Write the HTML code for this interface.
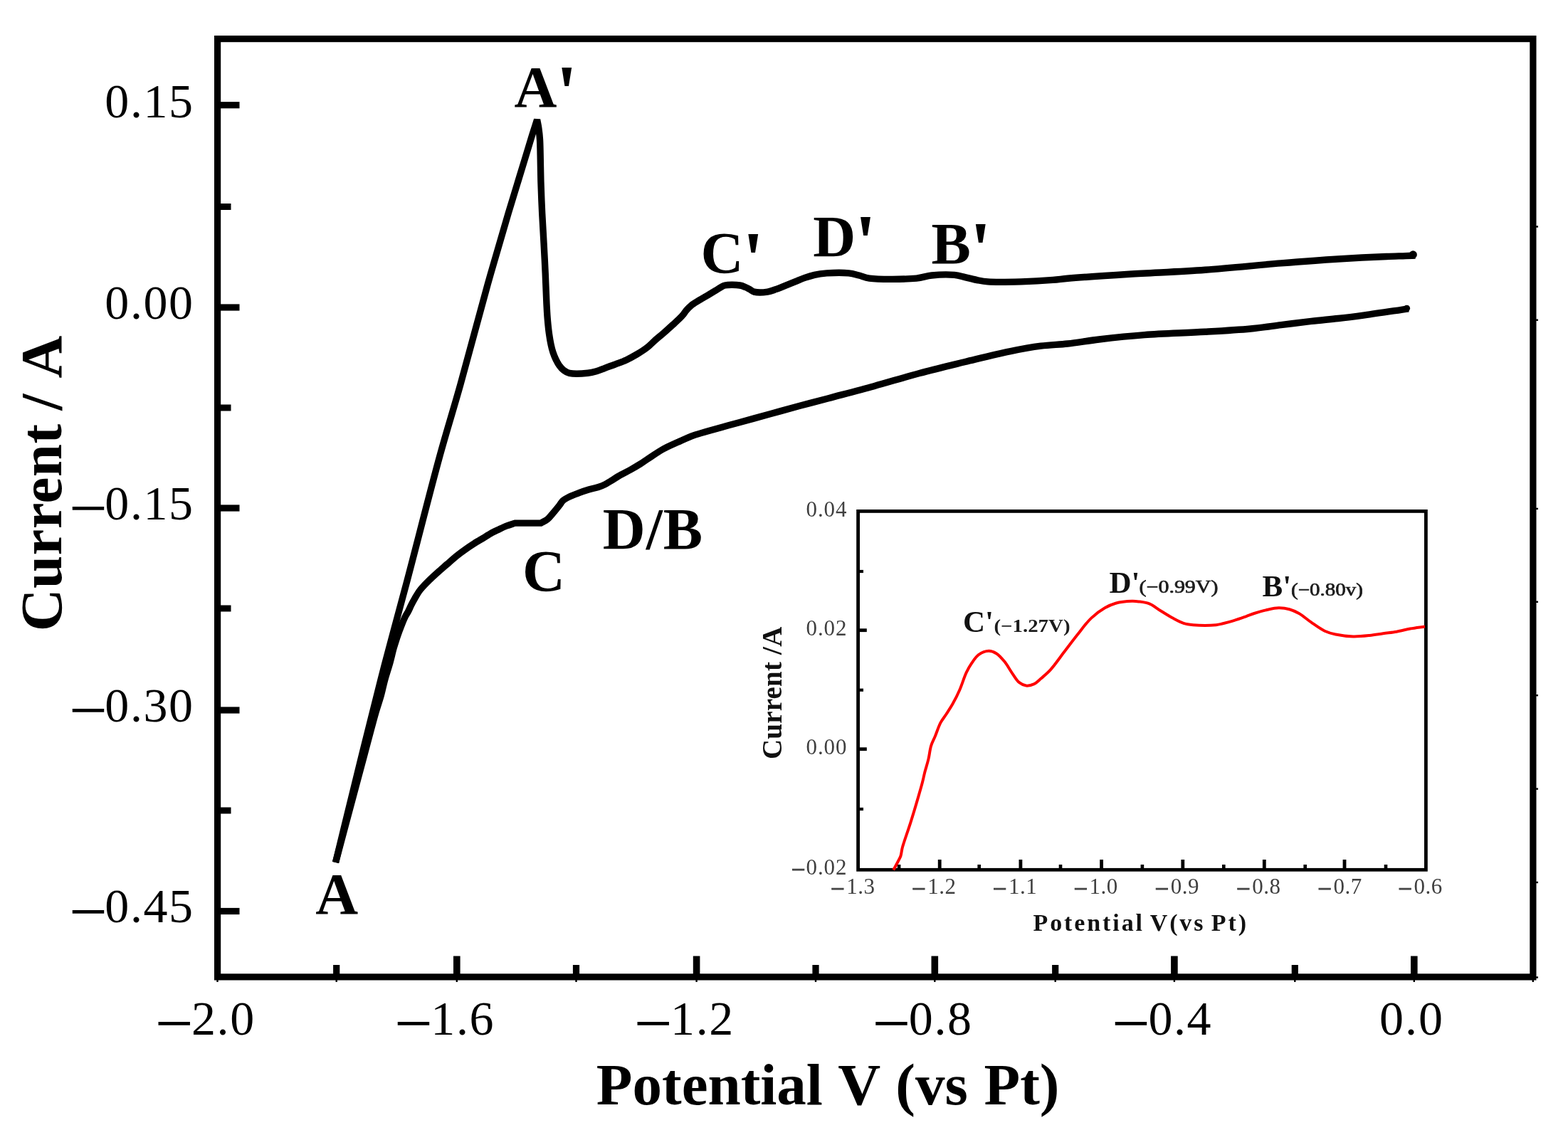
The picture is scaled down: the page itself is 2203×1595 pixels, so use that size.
<!DOCTYPE html>
<html lang="en">
<head>
<meta charset="utf-8">
<title>Cyclic voltammogram: Current / A vs Potential V (vs Pt)</title>
<style>
html,body{margin:0;padding:0;background:#fff;}
body{width:2203px;height:1595px;overflow:hidden;font-family:"Liberation Serif", "DejaVu Serif", serif;}
svg{display:block;}
text{white-space:pre;}
</style>
</head>
<body>
<svg width="2203" height="1595" viewBox="0 0 2203 1595">
<rect x="0" y="0" width="2203" height="1595" fill="#fff"/>
<g id="main-axes">
<rect x="305.60" y="54.60" width="1848.30" height="1318.30" fill="none" stroke="#000" stroke-width="9.2"/>
<rect x="309.2" y="143.1" width="27.3" height="9.2" fill="#000"/>
<rect x="309.2" y="427.4" width="27.3" height="9.2" fill="#000"/>
<rect x="309.2" y="709.4" width="27.3" height="9.2" fill="#000"/>
<rect x="309.2" y="993.4" width="27.3" height="9.2" fill="#000"/>
<rect x="309.2" y="1275.9" width="27.3" height="9.2" fill="#000"/>
<rect x="309.2" y="286.0" width="15.3" height="9" fill="#000"/>
<rect x="309.2" y="568.5" width="15.3" height="9" fill="#000"/>
<rect x="309.2" y="850.5" width="15.3" height="9" fill="#000"/>
<rect x="309.2" y="1134.5" width="15.3" height="9" fill="#000"/>
<rect x="637.0" y="1343.5" width="9.6" height="25.8" fill="#000"/>
<rect x="973.8" y="1343.5" width="9.6" height="25.8" fill="#000"/>
<rect x="1308.5" y="1343.5" width="9.6" height="25.8" fill="#000"/>
<rect x="1645.1" y="1343.5" width="9.6" height="25.8" fill="#000"/>
<rect x="1982.0" y="1343.5" width="9.6" height="25.8" fill="#000"/>
<rect x="468.1" y="1356" width="9.2" height="13.3" fill="#000"/>
<rect x="804.9" y="1356" width="9.2" height="13.3" fill="#000"/>
<rect x="1141.4" y="1356" width="9.2" height="13.3" fill="#000"/>
<rect x="1478.1" y="1356" width="9.2" height="13.3" fill="#000"/>
<rect x="1814.7" y="1356" width="9.2" height="13.3" fill="#000"/>
<rect x="304.3" y="1377.0" width="2.4" height="3" fill="#000"/>
<rect x="471.5" y="1377.0" width="2.4" height="3" fill="#000"/>
<rect x="808.3" y="1377.0" width="2.4" height="3" fill="#000"/>
<rect x="1144.8" y="1377.0" width="2.4" height="3" fill="#000"/>
<rect x="1481.5" y="1377.0" width="2.4" height="3" fill="#000"/>
<rect x="1818.1" y="1377.0" width="2.4" height="3" fill="#000"/>
<rect x="640.6" y="1377.0" width="2.4" height="3" fill="#000"/>
<rect x="977.4" y="1377.0" width="2.4" height="3" fill="#000"/>
<rect x="1312.1" y="1377.0" width="2.4" height="3" fill="#000"/>
<rect x="1648.7" y="1377.0" width="2.4" height="3" fill="#000"/>
<rect x="1985.6" y="1377.0" width="2.4" height="3" fill="#000"/>
<rect x="2152.6" y="1377.0" width="2.4" height="3" fill="#000"/>
<rect x="2158.0" y="317.3" width="3" height="2.4" fill="#000"/>
<rect x="2158.0" y="448.5" width="3" height="2.4" fill="#000"/>
<rect x="2158.0" y="713.7" width="3" height="2.4" fill="#000"/>
<rect x="2158.0" y="844.6" width="3" height="2.4" fill="#000"/>
<rect x="2158.0" y="976.0" width="3" height="2.4" fill="#000"/>
<rect x="2158.0" y="1107.4" width="3" height="2.4" fill="#000"/>
<rect x="2158.0" y="1238.8" width="3" height="2.4" fill="#000"/>
<rect x="2158.0" y="1372.3" width="3" height="2.4" fill="#000"/>
</g>
<g id="cv-curve">
<path d="M471.5,1212.0C483.9,1161.3 496.7,1108.2 508.7,1060.0C519.6,1016.3 529.6,975.9 540.2,935.0C550.5,895.3 560.1,861.1 571.5,818.0C585.6,764.9 604.1,690.8 618.1,640.0C628.6,601.8 636.9,576.2 647.0,540.0C659.0,497.3 673.1,442.7 685.1,400.0C695.3,363.8 706.4,325.8 714.1,300.0C719.0,283.6 722.3,273.2 726.3,260.0C730.3,246.9 734.5,233.3 738.2,221.0C741.5,210.1 744.7,199.4 747.6,190.0C750.1,182.1 752.3,175.5 754.6,168.2C755.3,172.1 756.2,175.8 756.8,180.0C757.5,184.9 758.1,189.9 758.5,196.0C759.0,204.2 759.1,215.3 759.3,225.0C759.5,234.9 759.6,244.0 759.9,255.0C760.3,268.5 761.0,285.4 761.7,300.0C762.4,314.0 763.3,327.2 764.0,341.0C764.8,355.2 765.5,369.7 766.2,384.0C766.8,398.1 767.3,414.0 767.9,426.0C768.4,435.1 768.7,442.3 769.4,449.9C770.0,456.9 770.7,463.8 771.6,469.9C772.3,475.0 773.1,479.5 774.0,483.9C774.8,487.8 775.7,491.4 776.9,494.9C778.0,498.3 779.4,501.7 780.9,504.9C782.4,508.0 784.0,511.2 785.9,513.8C787.7,516.3 789.6,518.6 791.9,520.3C794.2,522.1 796.3,523.5 799.9,524.3C806.0,525.7 818.9,525.0 825.9,524.3C830.7,523.8 834.0,522.9 837.9,521.8C841.9,520.6 845.6,518.9 849.8,517.3C854.5,515.5 859.8,513.7 864.8,511.8C869.8,509.9 874.9,508.2 879.8,505.9C884.9,503.6 889.9,500.8 894.8,497.9C899.9,494.9 905.4,491.4 909.8,487.9C913.7,484.9 916.4,481.7 920.0,478.5C924.0,475.0 928.5,471.4 932.7,467.7C937.0,464.0 941.2,460.2 945.4,456.3C949.7,452.4 954.7,448.0 958.1,444.2C960.7,441.3 962.3,438.4 964.5,435.9C966.5,433.6 968.2,431.7 970.8,429.6C974.2,426.8 979.2,424.0 983.5,421.3C987.7,418.7 992.4,416.1 996.3,413.7C999.7,411.7 1003.0,409.7 1005.8,408.0C1008.1,406.6 1010.0,405.3 1012.1,404.1C1014.2,402.9 1015.7,401.7 1018.5,401.0C1023.4,399.9 1034.3,400.2 1039.5,401.0C1042.7,401.5 1044.7,402.5 1047.1,403.5C1049.4,404.4 1051.4,405.6 1053.5,406.7C1055.5,407.8 1056.8,409.4 1059.5,410.1C1064.0,411.3 1073.0,410.9 1078.5,410.1C1082.8,409.5 1085.9,408.1 1089.8,406.7C1094.2,405.2 1098.9,403.1 1103.4,401.3C1107.9,399.5 1112.5,397.6 1117.0,395.8C1121.6,394.0 1126.1,392.0 1130.7,390.4C1135.2,388.8 1139.5,387.4 1144.3,386.3C1149.7,385.1 1154.9,384.4 1161.5,383.9C1170.3,383.3 1184.2,383.0 1192.5,383.9C1198.2,384.5 1202.1,385.8 1206.9,387.0C1211.8,388.2 1214.8,390.2 1221.5,391.1C1235.5,393.0 1271.7,392.6 1287.6,391.1C1296.7,390.2 1301.1,387.8 1309.0,387.0C1318.5,386.0 1332.3,385.6 1340.9,386.4C1346.9,387.0 1350.7,388.4 1355.9,389.6C1361.4,390.8 1367.4,392.5 1372.9,393.6C1378.0,394.6 1381.4,395.4 1387.8,395.9C1399.1,396.8 1419.3,396.3 1434.8,395.9C1449.9,395.5 1467.5,394.4 1479.5,393.4C1487.7,392.8 1490.8,392.1 1500.0,391.3C1518.9,389.7 1556.2,387.2 1586.6,385.3C1620.3,383.2 1657.7,381.9 1693.2,379.3C1728.8,376.7 1766.8,372.6 1799.8,369.9C1828.4,367.6 1854.4,365.6 1880.0,364.0C1903.6,362.5 1930.5,361.2 1948.0,360.5C1959.0,360.0 1967.5,359.9 1975.0,359.6C1980.3,359.4 1984.0,359.2 1988.5,359.0" fill="none" stroke="#000" stroke-width="9.4" stroke-linejoin="miter" stroke-miterlimit="2"/>
<path d="M471.5,1212.0C485.0,1161.3 501.6,1099.1 512.1,1060.0C518.7,1035.4 523.9,1015.1 528.3,1000.0C531.0,990.8 533.0,985.4 535.1,978.0C537.2,970.5 538.6,962.9 540.7,955.4C542.8,947.8 545.4,940.3 547.5,932.8C549.6,925.3 551.5,916.5 553.3,910.3C554.6,905.9 555.6,902.7 556.8,899.0C558.0,895.3 559.3,891.7 560.6,888.0C562.0,884.2 563.5,880.1 565.0,876.4C566.5,872.8 568.1,869.0 569.6,866.0C570.9,863.5 572.1,861.9 573.4,859.5C574.9,856.7 576.2,853.4 577.7,850.4C579.2,847.3 580.7,844.5 582.6,841.3C584.8,837.6 587.0,833.4 590.0,829.5C593.5,824.9 598.4,820.1 602.7,815.8C606.9,811.6 611.1,807.8 615.4,804.0C619.6,800.2 623.9,796.6 628.1,792.9C632.3,789.2 636.5,785.3 640.8,781.8C645.0,778.4 649.2,775.3 653.5,772.3C657.7,769.3 662.0,766.4 666.3,763.7C670.5,761.0 674.8,758.6 679.0,756.1C683.2,753.5 687.9,750.5 691.7,748.4C694.7,746.8 697.0,745.8 700.0,744.4C703.6,742.7 707.8,740.6 711.8,739.0C715.7,737.5 719.7,736.4 723.6,735.1C735.7,735.1 747.8,735.1 759.9,735.1C762.9,733.4 766.2,732.1 769.0,729.9C772.0,727.5 774.4,724.0 777.2,720.8C780.2,717.4 783.7,713.1 786.2,709.9C788.0,707.5 788.8,705.5 790.8,703.6C793.2,701.4 796.5,699.8 799.9,698.1C803.9,696.1 808.9,694.4 813.5,692.7C818.0,691.0 822.5,689.5 827.1,688.1C831.6,686.7 836.7,685.8 840.7,684.5C844.1,683.4 846.8,682.4 849.8,680.9C852.9,679.4 855.6,677.4 858.9,675.4C863.0,672.9 867.9,669.8 872.5,667.2C877.0,664.7 881.6,662.5 886.1,660.0C890.7,657.4 895.7,654.5 900.0,651.8C903.8,649.4 906.4,647.3 910.6,644.6C916.5,640.7 924.7,635.0 931.9,631.0C938.9,627.2 946.1,624.2 953.2,621.0C960.3,617.8 967.3,614.5 974.5,611.9C981.5,609.4 987.5,607.9 995.8,605.5C1007.6,602.1 1024.3,597.6 1038.5,593.7C1052.7,589.8 1066.9,585.9 1081.1,582.0C1095.3,578.1 1109.8,574.1 1123.8,570.3C1137.4,566.6 1149.1,563.7 1164.0,559.7C1182.8,554.7 1206.6,548.6 1227.9,542.7C1249.3,536.8 1270.5,530.2 1291.9,524.5C1313.2,518.8 1334.6,513.7 1355.9,508.5C1377.2,503.4 1400.6,497.5 1419.8,493.6C1435.4,490.4 1448.7,488.0 1462.5,486.2C1475.4,484.5 1487.0,484.4 1500.0,483.0C1514.1,481.4 1528.0,478.9 1544.0,477.0C1563.3,474.7 1585.0,472.3 1607.9,470.6C1634.3,468.6 1666.8,467.9 1693.2,466.3C1716.1,465.0 1738.1,463.8 1757.2,462.0C1772.9,460.5 1785.6,458.5 1799.8,456.7C1814.0,454.9 1828.7,453.0 1842.5,451.4C1855.4,449.9 1867.5,448.9 1880.0,447.5C1892.4,446.1 1903.2,444.7 1917.2,442.8C1935.2,440.4 1958.4,436.8 1979.0,433.8" fill="none" stroke="#000" stroke-width="9.4" stroke-linejoin="miter" stroke-miterlimit="2"/>
<circle cx="1985.3" cy="357.9" r="5.6" fill="#000"/>
<circle cx="1976.5" cy="433.3" r="4.6" fill="#000"/>
</g>
<g id="main-tick-labels">
<text y="165.3" font-family='"Liberation Serif", "DejaVu Serif", serif' font-size="68" fill="#000" letter-spacing="1.6"><tspan x="147.3">0.15</tspan></text>
<text y="447.8" font-family='"Liberation Serif", "DejaVu Serif", serif' font-size="68" fill="#000" letter-spacing="1.6"><tspan x="147.3">0.00</tspan></text>
<text y="729.8" font-family='"Liberation Serif", "DejaVu Serif", serif' font-size="68" fill="#000" letter-spacing="1.6"><tspan x="97.0" dy="16.4" font-size="95.5" letter-spacing="0">−</tspan><tspan x="147.3" dy="-16.4">0.15</tspan></text>
<text y="1013.8" font-family='"Liberation Serif", "DejaVu Serif", serif' font-size="68" fill="#000" letter-spacing="1.6"><tspan x="97.0" dy="16.4" font-size="95.5" letter-spacing="0">−</tspan><tspan x="147.3" dy="-16.4">0.30</tspan></text>
<text y="1296.3" font-family='"Liberation Serif", "DejaVu Serif", serif' font-size="68" fill="#000" letter-spacing="1.6"><tspan x="97.0" dy="16.4" font-size="95.5" letter-spacing="0">−</tspan><tspan x="147.3" dy="-16.4">0.45</tspan></text>
<text y="1453.9" font-family='"Liberation Serif", "DejaVu Serif", serif' font-size="68" fill="#000" letter-spacing="1.6"><tspan x="217.7" dy="16.4" font-size="95.5" letter-spacing="0">−</tspan><tspan x="269.0" dy="-16.4">2.0</tspan></text>
<text y="1453.9" font-family='"Liberation Serif", "DejaVu Serif", serif' font-size="68" fill="#000" letter-spacing="1.6"><tspan x="554.0" dy="16.4" font-size="95.5" letter-spacing="0">−</tspan><tspan x="605.3" dy="-16.4">1.6</tspan></text>
<text y="1453.9" font-family='"Liberation Serif", "DejaVu Serif", serif' font-size="68" fill="#000" letter-spacing="1.6"><tspan x="890.8" dy="16.4" font-size="95.5" letter-spacing="0">−</tspan><tspan x="942.1" dy="-16.4">1.2</tspan></text>
<text y="1453.9" font-family='"Liberation Serif", "DejaVu Serif", serif' font-size="68" fill="#000" letter-spacing="1.6"><tspan x="1225.5" dy="16.4" font-size="95.5" letter-spacing="0">−</tspan><tspan x="1276.8" dy="-16.4">0.8</tspan></text>
<text y="1453.9" font-family='"Liberation Serif", "DejaVu Serif", serif' font-size="68" fill="#000" letter-spacing="1.6"><tspan x="1562.1" dy="16.4" font-size="95.5" letter-spacing="0">−</tspan><tspan x="1613.4" dy="-16.4">0.4</tspan></text>
<text y="1453.9" font-family='"Liberation Serif", "DejaVu Serif", serif' font-size="68" fill="#000" letter-spacing="2.0"><tspan x="1938.0">0.0</tspan></text>
</g>
<text x="837.8" y="1551.7" font-family='"Liberation Serif", "DejaVu Serif", serif' font-size="83" font-weight="bold" fill="#000" word-spacing="2">Potential V (vs Pt)</text>
<text transform="translate(86.1 887.3) rotate(-90)" font-family='"Liberation Serif", "DejaVu Serif", serif' font-size="83" font-weight="bold" fill="#000" letter-spacing="0.4" word-spacing="2.2">Current <tspan dx="-4.6">/</tspan> <tspan dx="3.2">A</tspan></text>
<g id="peak-labels">
<text x="722.6" y="149.7" font-family='"Liberation Serif", "DejaVu Serif", serif' font-size="83" font-weight="bold" fill="#000" letter-spacing="0">A<tspan font-size="109.6" dx="-1.5" dy="17.4">'</tspan></text>
<text x="984.5" y="383.2" font-family='"Liberation Serif", "DejaVu Serif", serif' font-size="83" font-weight="bold" fill="#000" letter-spacing="0">C<tspan font-size="109.6" dx="-1.5" dy="17.4">'</tspan></text>
<text x="1142.2" y="359.9" font-family='"Liberation Serif", "DejaVu Serif", serif' font-size="83" font-weight="bold" fill="#000" letter-spacing="0">D<tspan font-size="109.6" dx="-1.5" dy="17.4">'</tspan></text>
<text x="1308.6" y="370.0" font-family='"Liberation Serif", "DejaVu Serif", serif' font-size="83" font-weight="bold" fill="#000" letter-spacing="0">B<tspan font-size="109.6" dx="-1.5" dy="17.4">'</tspan></text>
<text x="734.0" y="829.5" font-family='"Liberation Serif", "DejaVu Serif", serif' font-size="83" font-weight="bold" fill="#000" letter-spacing="0">C</text>
<text x="846.7" y="770.8" font-family='"Liberation Serif", "DejaVu Serif", serif' font-size="83" font-weight="bold" fill="#000" letter-spacing="1">D/B</text>
<text x="443.2" y="1284.4" font-family='"Liberation Serif", "DejaVu Serif", serif' font-size="83" font-weight="bold" fill="#000" letter-spacing="0">A</text>
</g>
<g id="inset-axes">
<rect x="1205.60" y="718.40" width="797.80" height="503.90" fill="none" stroke="#000" stroke-width="4.8"/>
<rect x="1207.0" y="883.3" width="10.8" height="4.8" fill="#000"/>
<rect x="1207.0" y="1050.3" width="10.8" height="4.8" fill="#000"/>
<rect x="1207.0" y="800.9" width="6.0" height="4.2" fill="#000"/>
<rect x="1207.0" y="967.6" width="6.0" height="4.2" fill="#000"/>
<rect x="1207.0" y="1134.9" width="6.0" height="4.2" fill="#000"/>
<rect x="1317.8" y="1208" width="4.8" height="12.9" fill="#000"/>
<rect x="1431.5" y="1208" width="4.8" height="12.9" fill="#000"/>
<rect x="1545.2" y="1208" width="4.8" height="12.9" fill="#000"/>
<rect x="1659.4" y="1208" width="4.8" height="12.9" fill="#000"/>
<rect x="1773.9" y="1208" width="4.8" height="12.9" fill="#000"/>
<rect x="1886.6" y="1208" width="4.8" height="12.9" fill="#000"/>
<rect x="1260.8" y="1215" width="4.6" height="5.9" fill="#000"/>
<rect x="1373.4" y="1215" width="4.6" height="5.9" fill="#000"/>
<rect x="1487.7" y="1215" width="4.6" height="5.9" fill="#000"/>
<rect x="1602.6" y="1215" width="4.6" height="5.9" fill="#000"/>
<rect x="1717.0" y="1215" width="4.6" height="5.9" fill="#000"/>
<rect x="1831.4" y="1215" width="4.6" height="5.9" fill="#000"/>
<rect x="1944.7" y="1215" width="4.6" height="5.9" fill="#000"/>
</g>
<g id="inset-curve">
<path d="M1255.3,1222.5C1257.4,1218.7 1259.7,1214.5 1261.5,1211.0C1263.0,1208.1 1264.4,1205.9 1265.4,1203.0C1266.5,1199.7 1266.7,1195.5 1267.6,1192.0C1268.4,1188.8 1269.1,1186.8 1270.3,1183.0C1272.4,1176.5 1276.1,1166.0 1279.2,1156.3C1282.9,1144.7 1287.7,1128.5 1290.7,1118.1C1292.8,1111.0 1294.3,1105.9 1295.8,1100.1C1297.2,1094.6 1298.2,1089.5 1299.6,1084.1C1301.1,1078.5 1303.0,1072.8 1304.4,1066.9C1305.9,1060.8 1306.4,1053.6 1308.2,1047.9C1309.7,1043.0 1311.9,1039.4 1313.9,1034.5C1316.3,1028.7 1318.7,1020.8 1321.6,1015.4C1323.9,1011.0 1326.6,1008.1 1329.2,1004.0C1332.2,999.3 1335.7,994.2 1338.7,988.8C1342.0,982.9 1345.2,976.6 1348.2,969.7C1351.6,962.0 1354.5,951.8 1357.8,944.9C1360.3,939.7 1362.5,935.8 1365.4,931.6C1368.2,927.5 1371.0,922.9 1374.9,920.1C1378.9,917.3 1384.8,914.9 1389.2,914.8C1393.0,914.7 1396.4,916.2 1399.7,918.2C1403.8,920.7 1407.6,925.2 1411.2,929.6C1415.3,934.6 1418.9,941.6 1422.6,946.8C1425.8,951.3 1428.5,956.4 1432.1,959.2C1435.0,961.5 1438.3,963.2 1441.7,963.6C1445.3,964.0 1449.6,962.7 1453.1,961.1C1456.6,959.4 1459.2,956.4 1462.6,953.5C1466.7,949.9 1471.4,946.2 1476.0,941.1C1482.1,934.5 1488.7,924.6 1495.1,916.3C1501.4,908.0 1507.7,899.5 1514.1,891.5C1520.4,883.6 1526.4,875.0 1533.2,868.6C1539.2,862.9 1546.1,857.9 1552.3,854.3C1557.5,851.3 1561.8,849.3 1567.5,847.7C1574.2,845.9 1584.4,845.0 1590.4,844.8C1594.3,844.7 1596.4,844.9 1600.0,845.4C1604.5,846.0 1610.4,846.6 1615.3,848.6C1620.6,850.7 1625.3,855.0 1630.5,858.2C1636.0,861.6 1642.1,865.6 1647.7,868.6C1652.9,871.4 1657.9,874.3 1662.9,875.9C1667.4,877.3 1670.8,877.7 1676.3,878.2C1684.7,878.9 1701.1,878.9 1708.7,878.2C1712.8,877.8 1714.7,877.1 1718.2,876.3C1722.7,875.2 1728.3,873.7 1733.5,872.1C1739.1,870.4 1745.5,868.1 1750.6,866.3C1754.8,864.8 1757.8,863.4 1762.1,862.0C1767.6,860.2 1775.1,858.1 1781.1,856.8C1786.4,855.6 1791.3,854.4 1796.4,854.3C1801.5,854.2 1806.8,854.9 1811.6,856.2C1816.3,857.5 1820.4,859.4 1825.0,862.0C1830.5,865.1 1836.2,870.4 1842.1,874.4C1848.2,878.6 1855.0,883.8 1861.2,886.7C1866.4,889.1 1870.7,890.3 1876.5,891.5C1883.7,893.0 1893.1,894.2 1901.2,894.4C1909.0,894.6 1916.8,893.7 1924.1,892.9C1930.8,892.2 1936.8,891.1 1943.2,890.2C1949.5,889.3 1955.9,888.8 1962.2,887.7C1968.6,886.6 1974.8,884.7 1981.3,883.5C1988.0,882.3 1995.1,881.5 2002.0,880.5" fill="none" stroke="#ff0000" stroke-width="4.0" stroke-linejoin="round" />
</g>
<g id="inset-tick-labels">
<text y="725.6" font-family='"Liberation Serif", "DejaVu Serif", serif' font-size="31" fill="#404040" letter-spacing="0.9"><tspan x="1132.5">0.04</tspan></text>
<text y="892.8" font-family='"Liberation Serif", "DejaVu Serif", serif' font-size="31" fill="#404040" letter-spacing="0.9"><tspan x="1132.5">0.02</tspan></text>
<text y="1059.8" font-family='"Liberation Serif", "DejaVu Serif", serif' font-size="31" fill="#404040" letter-spacing="0.9"><tspan x="1132.5">0.00</tspan></text>
<text y="1229.4" font-family='"Liberation Serif", "DejaVu Serif", serif' font-size="31" fill="#404040" letter-spacing="0.9"><tspan x="1111.8" dy="4.6" font-size="35" letter-spacing="0" stroke="#404040" stroke-width="1.0">−</tspan><tspan x="1132.5" dy="-4.6">0.02</tspan></text>
<text y="1255.9" font-family='"Liberation Serif", "DejaVu Serif", serif' font-size="31" fill="#404040" letter-spacing="0.5"><tspan x="1167.1" dy="4.6" font-size="35" letter-spacing="0" stroke="#404040" stroke-width="1.0">−</tspan><tspan x="1189.3" dy="-4.6">1.3</tspan></text>
<text y="1255.9" font-family='"Liberation Serif", "DejaVu Serif", serif' font-size="31" fill="#404040" letter-spacing="0.5"><tspan x="1281.0" dy="4.6" font-size="35" letter-spacing="0" stroke="#404040" stroke-width="1.0">−</tspan><tspan x="1303.2" dy="-4.6">1.2</tspan></text>
<text y="1255.9" font-family='"Liberation Serif", "DejaVu Serif", serif' font-size="31" fill="#404040" letter-spacing="0.5"><tspan x="1394.7" dy="4.6" font-size="35" letter-spacing="0" stroke="#404040" stroke-width="1.0">−</tspan><tspan x="1416.9" dy="-4.6">1.1</tspan></text>
<text y="1255.9" font-family='"Liberation Serif", "DejaVu Serif", serif' font-size="31" fill="#404040" letter-spacing="0.5"><tspan x="1508.4" dy="4.6" font-size="35" letter-spacing="0" stroke="#404040" stroke-width="1.0">−</tspan><tspan x="1530.6" dy="-4.6">1.0</tspan></text>
<text y="1255.9" font-family='"Liberation Serif", "DejaVu Serif", serif' font-size="31" fill="#404040" letter-spacing="0.5"><tspan x="1622.6" dy="4.6" font-size="35" letter-spacing="0" stroke="#404040" stroke-width="1.0">−</tspan><tspan x="1644.8" dy="-4.6">0.9</tspan></text>
<text y="1255.9" font-family='"Liberation Serif", "DejaVu Serif", serif' font-size="31" fill="#404040" letter-spacing="0.5"><tspan x="1737.1" dy="4.6" font-size="35" letter-spacing="0" stroke="#404040" stroke-width="1.0">−</tspan><tspan x="1759.3" dy="-4.6">0.8</tspan></text>
<text y="1255.9" font-family='"Liberation Serif", "DejaVu Serif", serif' font-size="31" fill="#404040" letter-spacing="0.5"><tspan x="1851.3" dy="4.6" font-size="35" letter-spacing="0" stroke="#404040" stroke-width="1.0">−</tspan><tspan x="1873.5" dy="-4.6">0.7</tspan></text>
<text y="1255.9" font-family='"Liberation Serif", "DejaVu Serif", serif' font-size="31" fill="#404040" letter-spacing="0.5"><tspan x="1964.3" dy="4.6" font-size="35" letter-spacing="0" stroke="#404040" stroke-width="1.0">−</tspan><tspan x="1986.5" dy="-4.6">0.6</tspan></text>
</g>
<text x="1451.5" y="1307.8" font-family='"Liberation Serif", "DejaVu Serif", serif' font-size="34" font-weight="bold" fill="#111" letter-spacing="2.9" word-spacing="-3">Potential V(vs Pt)</text>
<text transform="translate(1098.3 1067) rotate(-90)" font-family='"Liberation Serif", "DejaVu Serif", serif' font-size="39" font-weight="bold" fill="#111" letter-spacing="0.2">Current /A</text>
<g id="inset-peak-labels">
<text font-family='"Liberation Serif", "DejaVu Serif", serif' font-weight="bold" fill="#111"><tspan x="1353.0" y="888.0" font-size="43">C'</tspan></text>
<text x="1396.5" y="888.2" font-family='"Liberation Serif", "DejaVu Serif", serif' font-weight="bold" fill="#1c1c1c" font-size="25" textLength="107" lengthAdjust="spacingAndGlyphs">(−1.27V)</text>
<text font-family='"Liberation Serif", "DejaVu Serif", serif' font-weight="bold" fill="#111"><tspan x="1558.5" y="832.6" font-size="43">D'</tspan></text>
<text x="1600.5" y="832.8" font-family='"Liberation Serif", "DejaVu Serif", serif' font-weight="normal" stroke="#1c1c1c" stroke-width="0.7" fill="#1c1c1c" font-size="25" textLength="111" lengthAdjust="spacingAndGlyphs">(−0.99V)</text>
<text font-family='"Liberation Serif", "DejaVu Serif", serif' font-weight="bold" fill="#111"><tspan x="1773.5" y="838.2" font-size="43">B'</tspan></text>
<text x="1814.0" y="837.4" font-family='"Liberation Serif", "DejaVu Serif", serif' font-weight="normal" stroke="#1c1c1c" stroke-width="0.7" fill="#1c1c1c" font-size="25" textLength="101" lengthAdjust="spacingAndGlyphs">(−0.80v)</text>
</g>
</svg>
</body>
</html>
